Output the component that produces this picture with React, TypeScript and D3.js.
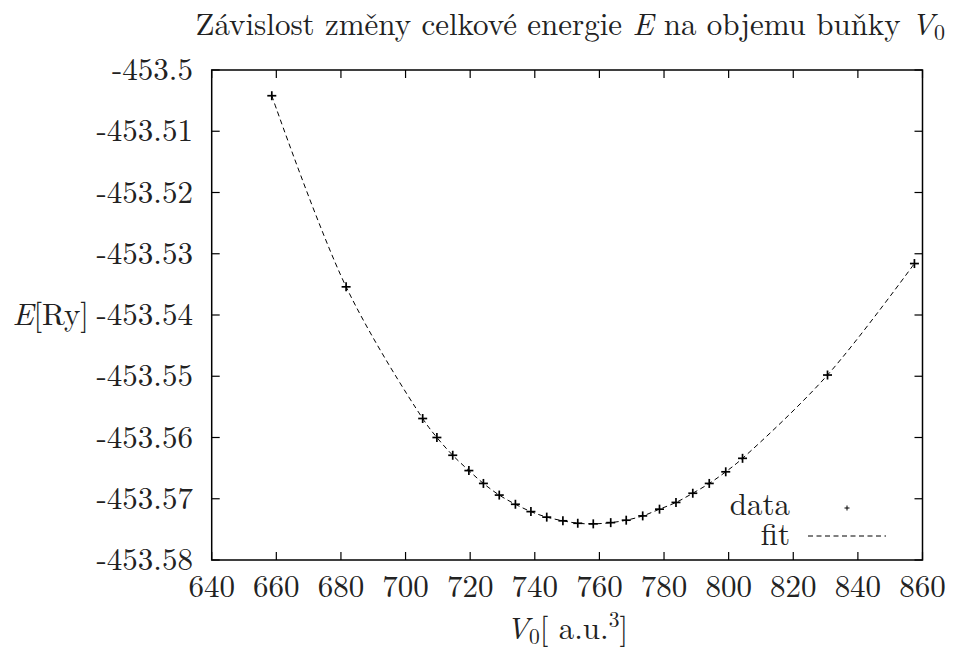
import React from "react";
import * as d3 from "d3";

// Cell volume V0 [a.u.^3] and total energy E [Ry]
const volumes = [
  658.6, 681.6, 705.3, 709.7, 714.6, 719.6, 724.1, 729.0, 734.0, 738.8, 743.7,
  748.7, 753.3, 758.1, 763.5, 768.3, 773.4, 778.6, 783.7, 788.9, 794.0, 799.1,
  804.3, 830.6, 857.5,
];
const energies = [
  -453.5042, -453.5354, -453.5569, -453.56, -453.5629, -453.5654, -453.5675,
  -453.5694, -453.5709, -453.5721, -453.573, -453.5736, -453.574, -453.5741,
  -453.5739, -453.5735, -453.5728, -453.5717, -453.5706, -453.5691, -453.5675,
  -453.5656, -453.5634, -453.5498, -453.5316,
];

const xTicks = [640, 660, 680, 700, 720, 740, 760, 780, 800, 820, 840, 860];
const yTicks = [
  -453.5, -453.51, -453.52, -453.53, -453.54, -453.55, -453.56, -453.57, -453.58,
];
const yTickLabels = [
  "-453.5", "-453.51", "-453.52", "-453.53", "-453.54", "-453.55", "-453.56",
  "-453.57", "-453.58",
];

const W = 954;
const H = 649;
const left = 211.7;
const right = 922.5;
const top = 70;
const bottom = 560;
const FONT = `"Latin Modern Roman", "Liberation Serif", serif`;

export default function App() {
  const x = d3.scaleLinear().domain([640, 860]).range([left, right]);
  const y = d3.scaleLinear().domain([-453.58, -453.5]).range([bottom, top]);

  const points = volumes.map((v, i) => [v, energies[i]] as [number, number]);
  const fitPath =
    d3
      .line<[number, number]>()
      .x((d) => x(d[0]))
      .y((d) => y(d[1]))
      .curve(d3.curveCatmullRom.alpha(0.5))(points) || "";

  const tickLen = 8;
  const cross = (cx: number, cy: number, r: number, sw: number, key: string) => (
    <g key={key} stroke="#000" strokeWidth={sw}>
      <line x1={cx - r} x2={cx + r} y1={cy} y2={cy} />
      <line x1={cx} x2={cx} y1={cy - r} y2={cy + r} />
    </g>
  );

  return (
    <svg
      width={W}
      height={H}
      viewBox={`0 0 ${W} ${H}`}
      style={{
        position: "absolute",
        left: 0,
        top: 0,
        background: "#fff",
        fontFamily: FONT,
      }}
    >
      <rect x={0} y={0} width={W} height={H} fill="#fff" />

      {/* title */}
      <text x={945} y={34.5} fontSize={31} fill="#222" textAnchor="end">
        Závislost změny celkové energie{" "}
        <tspan fontStyle="italic">E</tspan> na objemu buňky{" "}
        <tspan fontStyle="italic">V</tspan>
        <tspan fontSize={22} dy={5}>0</tspan>
      </text>

      {/* ticks, mirrored on opposite sides */}
      <g stroke="#000" strokeWidth={1.2}>
        {xTicks.map((t) => (
          <g key={"xt" + t}>
            <line x1={x(t)} x2={x(t)} y1={bottom} y2={bottom - tickLen} />
            <line x1={x(t)} x2={x(t)} y1={top} y2={top + tickLen} />
          </g>
        ))}
        {yTicks.map((t) => (
          <g key={"yt" + t}>
            <line x1={left} x2={left + tickLen} y1={y(t)} y2={y(t)} />
            <line x1={right} x2={right - tickLen} y1={y(t)} y2={y(t)} />
          </g>
        ))}
      </g>

      {/* tick labels */}
      <g fontSize={31} fill="#222">
        {xTicks.map((t) => (
          <text key={"xl" + t} x={x(t)} y={597} textAnchor="middle">
            {t}
          </text>
        ))}
        {yTicks.map((t, i) => (
          <text key={"yl" + t} x={193} y={y(t) + 10} textAnchor="end">
            {yTickLabels[i]}
          </text>
        ))}
      </g>

      {/* fit curve */}
      <path
        d={fitPath}
        fill="none"
        stroke="#000"
        strokeWidth={1}
        strokeDasharray="5,3.5"
      />

      {/* data points */}
      {points.map((p, i) => cross(x(p[0]), y(p[1]), 4.5, 1.7, "p" + i))}

      {/* frame */}
      <rect
        x={left}
        y={top}
        width={right - left}
        height={bottom - top}
        fill="none"
        stroke="#000"
        strokeWidth={1.5}
      />

      {/* legend */}
      <g fontSize={31} fill="#222">
        <text x={790} y={515} textAnchor="end">data</text>
        <text x={790} y={545} textAnchor="end">fit</text>
      </g>
      {cross(847, 508, 2.5, 1, "legend-cross")}
      <line
        x1={808}
        x2={886}
        y1={536}
        y2={536}
        stroke="#000"
        strokeWidth={1}
        strokeDasharray="5,3.5"
      />

      {/* axis labels */}
      <text x={89} y={325} textAnchor="end" fontSize={31} fill="#222">
        <tspan fontStyle="italic">E</tspan>[Ry]
      </text>
      <text x={567} y={639} textAnchor="middle" fontSize={31} fill="#222">
        <tspan fontStyle="italic">V</tspan>
        <tspan fontSize={21.5} dy={5}>0</tspan>
        <tspan dy={-5}>[ a.u.</tspan>
        <tspan fontSize={21.5} dy={-12}>3</tspan>
        <tspan dy={12}>]</tspan>
      </text>
    </svg>
  );
}
